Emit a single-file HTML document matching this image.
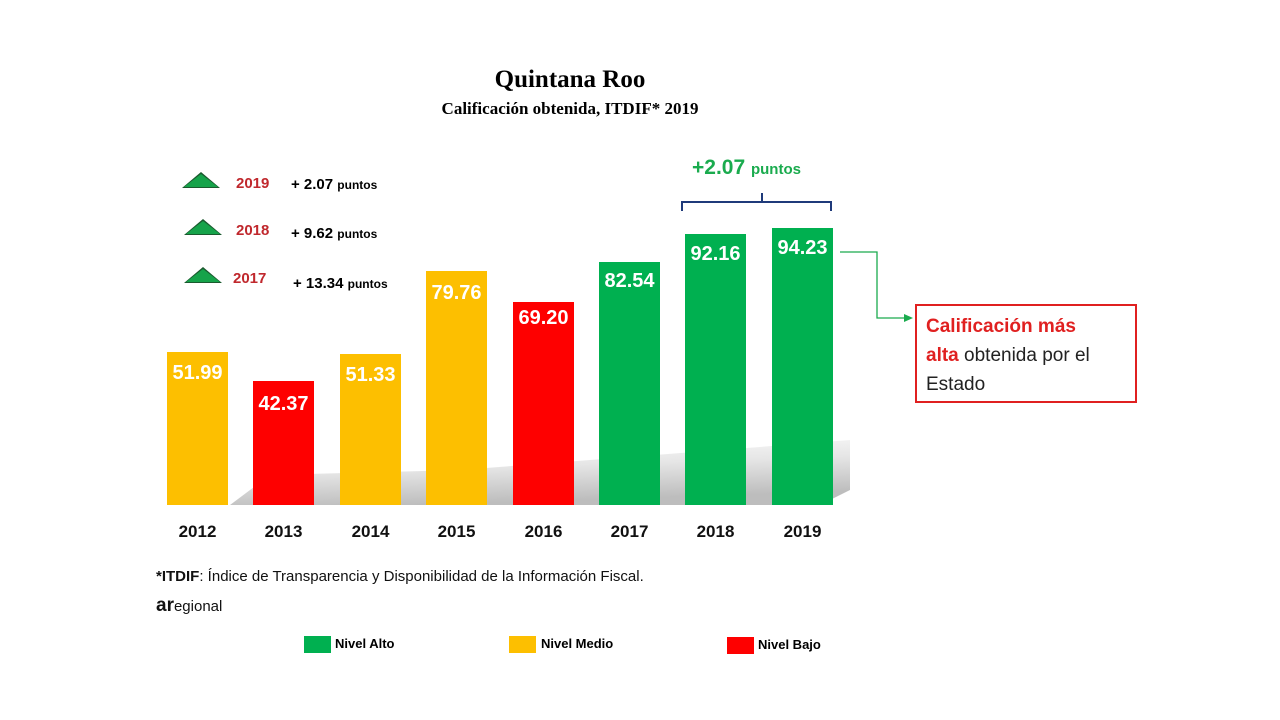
<!DOCTYPE html>
<html><head><meta charset="utf-8"><style>
body{margin:0;width:1280px;height:720px;background:#fff;position:relative;overflow:hidden;font-family:"Liberation Sans",sans-serif}
.a{position:absolute}
.bar{position:absolute;bottom:215px;width:61px;color:#fff;font-weight:bold;font-size:20px;text-align:center;font-family:"Liberation Sans Narrow","Liberation Sans",sans-serif}
.y{position:absolute;top:522px;width:61px;text-align:center;font-weight:bold;font-size:17px;color:#111}
.tri{position:absolute;width:0;height:0;border-left:19px solid transparent;border-right:19px solid transparent;border-bottom:16px solid #1a5a2e}
.tri:after{content:"";position:absolute;left:-17px;top:1.5px;border-left:17px solid transparent;border-right:17px solid transparent;border-bottom:13.5px solid #16a34a}
.yr{position:absolute;color:#c0282d;font-weight:bold;font-size:15px}
.pt{position:absolute;font-weight:bold;font-size:15px;color:#000}
.pt small{font-size:12px}
</style></head><body>
<div class="a" style="left:0;width:1140px;top:66px;text-align:center;font-family:'Liberation Serif',serif;font-weight:bold;font-size:25px;">Quintana Roo</div>
<div class="a" style="left:0;width:1140px;top:99px;text-align:center;font-family:'Liberation Serif',serif;font-weight:bold;font-size:17px;">Calificación obtenida, ITDIF* 2019</div>

<svg class="a" style="left:160px;top:430px" width="700" height="80">
<defs><linearGradient id="g" x1="0" y1="0" x2="0.3" y2="1"><stop offset="0" stop-color="#fff"/><stop offset="0.5" stop-color="#e6e6e6"/><stop offset="1" stop-color="#bdbdbd"/></linearGradient></defs>
<polygon points="70,75 110,45 300,40 690,10 690,60 660,75" fill="url(#g)"/>
</svg>

<div class="bar" style="left:167px;height:153px;background:#fdbf00;padding-top:10px;box-sizing:border-box">51.99</div>
<div class="bar" style="left:253px;height:124px;background:#fe0000;padding-top:12px;box-sizing:border-box">42.37</div>
<div class="bar" style="left:340px;height:151px;background:#fdbf00;padding-top:10px;box-sizing:border-box">51.33</div>
<div class="bar" style="left:426px;height:234px;background:#fdbf00;padding-top:11px;box-sizing:border-box">79.76</div>
<div class="bar" style="left:513px;height:203px;background:#fe0000;padding-top:5px;box-sizing:border-box">69.20</div>
<div class="bar" style="left:599px;height:243px;background:#00b050;padding-top:8px;box-sizing:border-box">82.54</div>
<div class="bar" style="left:685px;height:271px;background:#00b050;padding-top:9px;box-sizing:border-box">92.16</div>
<div class="bar" style="left:772px;height:277px;background:#00b050;padding-top:9px;box-sizing:border-box">94.23</div>

<div class="y" style="left:167px">2012</div><div class="y" style="left:253px">2013</div><div class="y" style="left:340px">2014</div><div class="y" style="left:426px">2015</div><div class="y" style="left:513px">2016</div><div class="y" style="left:599px">2017</div><div class="y" style="left:685px">2018</div><div class="y" style="left:772px">2019</div>

<div class="tri" style="left:182px;top:172px"></div><div class="yr" style="left:236px;top:175px">2019</div><div class="pt" style="left:291px;top:176px">+ 2.07 <small>puntos</small></div>
<div class="tri" style="left:184px;top:219px"></div><div class="yr" style="left:236px;top:222px">2018</div><div class="pt" style="left:291px;top:225px">+ 9.62 <small>puntos</small></div>
<div class="tri" style="left:184px;top:267px"></div><div class="yr" style="left:233px;top:270px">2017</div><div class="pt" style="left:293px;top:275px">+ 13.34 <small>puntos</small></div>

<div class="a" style="left:692px;top:156px;color:#1aab4e;font-weight:bold;font-size:21px">+2.07 <span style="font-size:15px">puntos</span></div>
<svg class="a" style="left:0;top:0" width="1280" height="720">
<path d="M682,211 V202 H831 V211 M762,202 V193" fill="none" stroke="#1f3a7a" stroke-width="2"/>
<path d="M840,252 H877 V318 H905" fill="none" stroke="#1aab4e" stroke-width="1.3"/>
<polygon points="913,318 904,314 904,322" fill="#1aab4e"/>
</svg>
<div class="a" style="left:915px;top:304px;width:222px;height:99px;border:2px solid #e02020;font-size:19px;line-height:29px;padding:6px 30px 0 9px;box-sizing:border-box;color:#222"><b style="color:#e02020">Calificación más alta</b> obtenida por el Estado</div>

<div class="a" style="left:156px;top:568px;font-size:15px;color:#111"><b>*ITDIF</b>: Índice de Transparencia y Disponibilidad de la Información Fiscal.</div>
<div class="a" style="left:156px;top:595px;font-size:15px;color:#111"><b style="font-size:19px">ar</b>egional</div>

<div class="a" style="left:304px;top:636px;width:27px;height:17px;background:#00b050"></div><div class="a" style="left:335px;top:636px;font-size:13px;font-weight:bold">Nivel Alto</div>
<div class="a" style="left:509px;top:636px;width:27px;height:17px;background:#fdbf00"></div><div class="a" style="left:541px;top:636px;font-size:13px;font-weight:bold">Nivel Medio</div>
<div class="a" style="left:727px;top:637px;width:27px;height:17px;background:#fe0000"></div><div class="a" style="left:758px;top:637px;font-size:13px;font-weight:bold">Nivel Bajo</div>
</body></html>
